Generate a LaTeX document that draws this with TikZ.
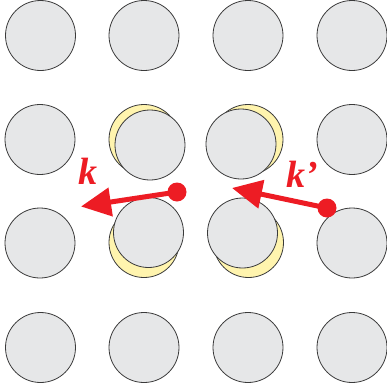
\documentclass[tikz,border=0pt]{standalone}
\usepackage{fontspec}
\setmainfont{Liberation Serif}
\usetikzlibrary{arrows.meta}
\definecolor{atomgrey}{HTML}{E6E7E8}
\definecolor{ghost}{HTML}{FFF4AE}
\definecolor{vecred}{HTML}{ED1C24}
\definecolor{rim}{HTML}{3A3A3A}
\tikzset{
  atom/.style={circle, minimum size=70pt, inner sep=0pt, fill=atomgrey, draw=rim, line width=0.8pt},
  oldsite/.style={circle, minimum size=70pt, inner sep=0pt, fill=ghost, draw=rim, line width=0.8pt},
  origin/.style={circle, minimum size=19pt, inner sep=0pt, fill=vecred},
  wavevec/.style={draw=vecred, line width=5pt, -{Triangle[length=30pt, width=28pt]}},
  veclabel/.style={text=vecred, font=\fontsize{38}{38}\selectfont\bfseries\itshape, inner sep=0pt}
}
\begin{document}
\begin{tikzpicture}[x=1pt, y=-1pt]
\useasboundingbox (0,0) rectangle (387,389);
% undisturbed lattice sites
\foreach \c/\x in {1/40.5,2/144,3/248,4/352}{
  \foreach \r/\y in {1/35.5,4/347.5}{
    \node[atom] (a\r\c) at (\x,\y) {};
  }
}
\node[atom] (a21) at (40,139.5) {};
\node[atom] (a24) at (352,139.5) {};
\node[atom] (a31) at (40,243) {};
\node[atom] (a34) at (352,243) {};
% original positions of the displaced atoms
\node[oldsite] (o22) at (144,139.5) {};
\node[oldsite] (o23) at (248,139.5) {};
\node[oldsite] (o32) at (144,242.5) {};
\node[oldsite] (o33) at (248.5,242.5) {};
% displaced atoms
\node[atom] (a22) at (150,145) {};
\node[atom] (a23) at (241,144) {};
\node[atom] (a32) at (148.5,232.5) {};
\node[atom] (a33) at (242.5,233) {};
% wave vectors
\node[origin] (p) at (177,192) {};
\node[origin] (q) at (327,208) {};
\coordinate (ptip) at (81,206.5);
\coordinate (qtip) at (232,188);
\draw[wavevec] (p.center) -- (ptip);
\draw[wavevec] (q.center) -- (qtip);
\node[veclabel, anchor=base] (klab) at (87.5,184.5) {k};
\node[veclabel, anchor=base] (kplab) at (302,187) {k’};
\end{tikzpicture}
\end{document}
